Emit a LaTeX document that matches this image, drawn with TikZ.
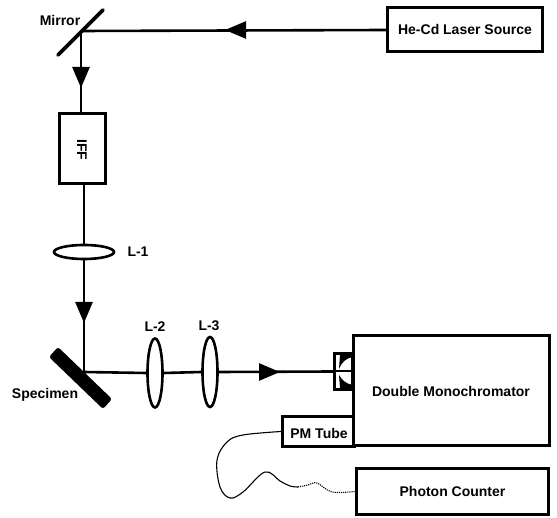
\documentclass[tikz,border=0pt]{standalone}
\usepackage{fontspec}
\setmainfont{Liberation Sans}
\usetikzlibrary{arrows.meta,shapes.geometric}
\tikzset{
  box/.style={draw, line width=3pt, fill=white, inner sep=0pt},
  lens/.style={draw, ellipse, line width=2.6pt, fill=white, inner sep=0pt},
  beam/.style={line width=2.6pt},
  label/.style={font=\bfseries\fontsize{14}{15}\selectfont, inner sep=0pt},
  wire/.style={line width=1.1pt},
  plate/.style={line width=3.6pt, line cap=round},
  bigtip/.style={>={Triangle[length=21pt,width=17pt]}}
}
\begin{document}
\begin{tikzpicture}[x=1pt,y=-1pt]
\useasboundingbox (0,0) rectangle (557,518);

\coordinate (mirrorpt) at (81,31);
\coordinate (specpt) at (84,372);
\coordinate (tipa) at (225,30);
\coordinate (tipb) at (81,88);
\coordinate (tipc) at (84,323);
\coordinate (tipd) at (280,372);

\node [box, minimum width=155pt, minimum height=44pt, label] (laser) at (465,30) {He-Cd Laser Source};
\node [box, minimum width=46pt, minimum height=70pt] (iff) at (82.5,148.5) {};
\node [label, rotate=-90] (ifftext) at (82,150) {IFF};
\node [lens, minimum width=60pt, minimum height=14pt] (lone) at (84,252) {};
\node [lens, minimum width=15pt, minimum height=69pt] (ltwo) at (155,373) {};
\node [lens, minimum width=15pt, minimum height=70pt] (lthree) at (210,372) {};
\node [box, minimum width=18pt, minimum height=36pt] (slit) at (343.5,371.5) {};
\node [box, minimum width=72pt, minimum height=30pt, anchor=south west] (pmtube) at (281,448) {};
\node [box, minimum width=196pt, minimum height=110pt, label] (mono) at (451,391) {Double Monochromator};
\node [label] (pmtext) at (319,433) {PM Tube};
\node [box, minimum width=192pt, minimum height=46pt, label] (counter) at (452.5,491.5) {Photon Counter};

\node [label] (mirrorlabel) at (60,21) {Mirror};
\node [label] (specimenlabel) at (45,395) {Specimen};
\node [label] (lonelabel) at (138,252) {L-1};
\node [label] (ltwolabel) at (155,327) {L-2};
\node [label] (lthreelabel) at (209,326) {L-3};

\draw [beam] (laser.west) -- (mirrorpt);
\draw [beam, bigtip, ->] (laser.west) -- (tipa);
\draw [beam] (mirrorpt) -- (iff.north -| mirrorpt);
\draw [beam, bigtip, ->] (mirrorpt) -- (tipb);
\draw [beam] (iff.south -| lone) -- (lone.north);
\draw [beam] (lone.south) -- (specpt);
\draw [beam, bigtip, ->] (lone.south) -- (tipc);
\draw [beam] (specpt) -- (ltwo.west);
\draw [beam] (ltwo.east) -- (lthree.west);
\draw [beam] (lthree.east) -- (slit.west);
\draw [beam, bigtip, ->] (lthree.east) -- (tipd);

\draw [plate] (58,55) -- (103,10);
\fill [rounded corners=2.5pt] (58,347) -- (49,357) -- (103,409) -- (112,399) -- cycle;

\draw [line width=2pt] (slit.west) -- (slit.east);
\fill (353,354) -- (340,355) -- (339,369) .. controls (342,362) and (346,358) .. (353,357) -- cycle;
\fill (353,388) -- (340,388) -- (339,375) .. controls (342,380) and (346,384) .. (353,385) -- cycle;

\draw [wire] plot [smooth, tension=0.6] coordinates {(pmtube.west) (243,435) (227,442) (217,460) (220,487) (230,498) (243,492) (265,472) (280,481) (290,486) (298,487)};
\draw [wire, densely dotted] plot [smooth, tension=0.6] coordinates {(298,487) (308,485) (317,483) (332,492) (counter.west)};

\end{tikzpicture}
\end{document}
